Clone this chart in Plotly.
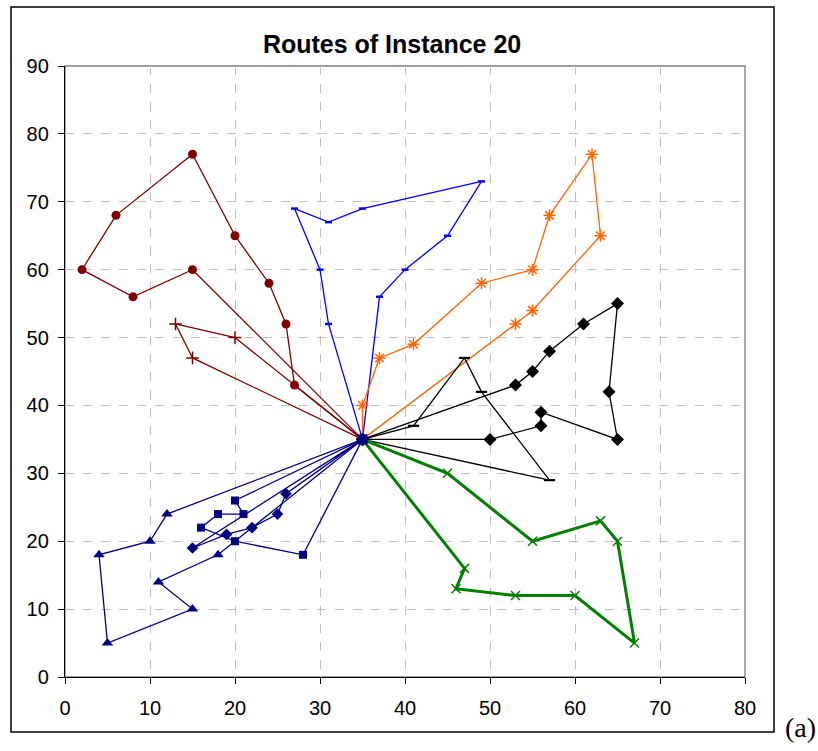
import plotly.graph_objects as go

# Depot location shared by every route
depot_x = 35
depot_y = 35

# Customer visit sequences (each route starts and ends at the depot)
r1_x = [35, 27, 26, 24, 20, 15, 6, 2, 8, 15, 35]
r1_y = [35, 43, 52, 58, 65, 77, 68, 60, 56, 60, 35]

r2_x = [35, 20, 13, 15, 35]
r2_y = [35, 50, 52, 47, 35]

r3_x = [35, 31, 30, 27, 31, 35, 49, 45, 40, 37, 35]
r3_y = [35, 52, 60, 69, 67, 69, 73, 65, 60, 56, 35]

r4_x = [35, 35, 37, 41, 49, 55, 57, 62, 63, 55, 53, 35]
r4_y = [35, 40, 47, 49, 58, 60, 68, 77, 65, 54, 52, 35]

r5_x = [35, 50, 56, 56, 65, 64, 65, 61, 57, 55, 53, 35]
r5_y = [35, 35, 37, 39, 35, 42, 55, 52, 48, 45, 43, 35]

r6_x = [35, 41, 47, 49, 57, 35]
r6_y = [35, 37, 47, 42, 29, 35]

r7_x = [35, 45, 55, 63, 65, 67, 60, 53, 46, 47, 35]
r7_y = [35, 30, 20, 23, 20, 5, 12, 12, 13, 16, 35]

r8_x = [35, 12, 10, 4, 5, 15, 11, 18, 35]
r8_y = [35, 24, 20, 18, 5, 10, 14, 18, 35]

r9_x = [35, 20, 21, 18, 16, 20, 28, 35]
r9_y = [35, 26, 24, 24, 22, 20, 18, 35]

r10_x = [35, 26, 25, 22, 19, 15, 35]
r10_y = [35, 27, 24, 22, 21, 19, 35]

x_ticks = [0, 10, 20, 30, 40, 50, 60, 70, 80]
y_ticks = [0, 10, 20, 30, 40, 50, 60, 70, 80, 90]

DARKRED = "#800000"
BLUE = "#0000FF"
ORANGE = "#FF6600"
BLACK = "#000000"
GREEN = "#008000"
NAVY = "#000080"

fig = go.Figure()


def add_route(xs, ys, color, symbol, size, line_width=1.3, mline=1.5, filled=True):
    marker = dict(symbol=symbol, size=size, color=color,
                  line=dict(color=color, width=mline if not filled else 0))
    fig.add_trace(go.Scatter(
        x=xs, y=ys, mode="lines+markers",
        line=dict(color=color, width=line_width),
        marker=marker, showlegend=False, hoverinfo="x+y",
    ))


add_route(r8_x, r8_y, NAVY, "triangle-up", 10)
add_route(r9_x, r9_y, NAVY, "square", 8)
add_route(r10_x, r10_y, NAVY, "diamond", 9)
add_route(r1_x, r1_y, DARKRED, "circle", 9)
add_route(r2_x, r2_y, DARKRED, "cross-thin-open", 9, mline=1.5, filled=False)
add_route(r3_x, r3_y, BLUE, "line-ew-open", 5, mline=2.5, filled=False)
add_route(r4_x, r4_y, ORANGE, "asterisk-open", 10, mline=1.5, filled=False)
add_route(r5_x, r5_y, BLACK, "diamond", 10)
add_route(r6_x, r6_y, BLACK, "line-ew-open", 8, mline=2.2, filled=False)
add_route(r7_x, r7_y, GREEN, "x-thin-open", 9, line_width=3, mline=1.5, filled=False)

# Depot
fig.add_trace(go.Scatter(
    x=[depot_x], y=[depot_y], mode="markers",
    marker=dict(symbol="square", size=10, color=NAVY),
    showlegend=False, hoverinfo="x+y",
))

axis_common = dict(
    showgrid=True, gridcolor="#C0C0C0", griddash="dash", gridwidth=1,
    zeroline=False, showline=True, linecolor="black", linewidth=1.3,
    ticks="outside", ticklen=6, tickcolor="black", tickwidth=1.3,
    tickfont=dict(family="Liberation Sans, Arial, sans-serif", size=20, color="black"),
)

fig.update_xaxes(range=[0, 80], tickvals=x_ticks, ticklabelstandoff=7, **axis_common)
fig.update_yaxes(range=[0, 90], tickvals=y_ticks, ticklabelstandoff=5, **axis_common)

fig.update_layout(
    width=818, height=751,
    margin=dict(l=65, r=73, t=66, b=74),
    paper_bgcolor="white", plot_bgcolor="white",
    title=dict(
        text="<b>Routes of Instance 20</b>",
        font=dict(family="Liberation Sans, Arial, sans-serif", size=25, color="black"),
        x=0.481, xref="paper", xanchor="center",
        y=1 - 44 / 751, yref="container", yanchor="middle",
    ),
    shapes=[
        # plot-area frame (top and right edges in grey)
        dict(type="rect", xref="paper", yref="paper", x0=0, x1=1, y0=0, y1=1,
             line=dict(color="#808080", width=1.3), layer="below"),
        # outer chart border
        dict(type="rect", xref="paper", yref="paper",
             x0=(11 - 65) / 680, x1=(774 - 65) / 680,
             y0=(677 - 732) / 611, y1=(677 - 7) / 611,
             line=dict(color="black", width=1.5), layer="below"),
    ],
    annotations=[
        dict(text="(a)", xref="paper", yref="paper",
             x=(800 - 65) / 680, y=(677 - 727) / 611,
             xanchor="center", yanchor="middle", showarrow=False,
             font=dict(family="Liberation Serif, Times New Roman, serif", size=28, color="black")),
    ],
)

fig.write_html("out.html")
